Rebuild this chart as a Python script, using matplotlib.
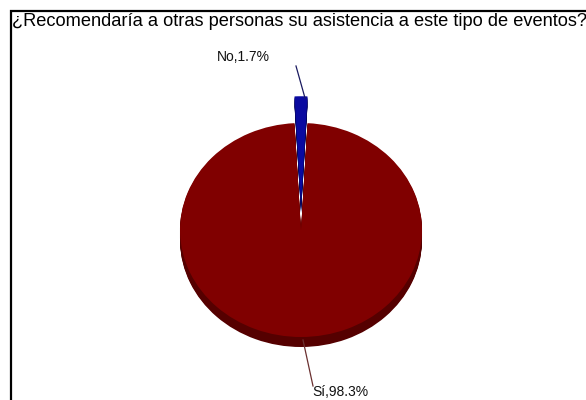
import matplotlib
matplotlib.use("Agg")
import matplotlib.pyplot as plt
from matplotlib.patches import Rectangle

# data
labels = ["No", "Sí"]
values = [1.7, 98.3]
colors = ["#0a0aa0", "#800000"]
side_colors = ["#05055a", "#550000"]
explode = [0.25, 0.0]

title = "¿Recomendaría a otras personas su asistencia a este tipo de eventos?"

W, H = 586, 400
cx, cy = 301, 230      # pie centre in pixels (from top-left)
rx, ry = 121, 107      # ellipse radii in pixels
depth = 10             # thickness of the pie in pixels

plt.rcParams['font.family'] = ['Liberation Sans', 'DejaVu Sans']

fig = plt.figure(figsize=(W / 100, H / 100), dpi=100)
ax = fig.add_axes([0, 0, 1, 1])

start = 90 - values[0] / sum(values) * 360 / 2

# side of the pie (shifted down), then the top face
for k in range(depth, 0, -1):
    ax.pie(values, colors=side_colors, explode=explode, startangle=start,
           center=(0, -k / ry), radius=1, frame=True,
           wedgeprops=dict(linewidth=0))
ax.pie(values, colors=colors, explode=explode, startangle=start,
       center=(0, 0), radius=1, frame=True,
       wedgeprops=dict(linewidth=0))
ax.set_aspect('auto')
ax.set_xlim(-cx / rx, (W - cx) / rx)
ax.set_ylim(-(H - cy) / ry, cy / ry)
ax.axis('off')


def px(x, y):
    # pixel (from top-left) -> data coords
    return (x - cx) / rx, (cy - y) / ry


# leader lines and labels
x0, y0 = px(305, 98)
x1, y1 = px(296, 66)
ax.plot([x0, x1], [y0, y1], color="#1a1a60", lw=0.9)
tx, ty = px(243, 57)
ax.text(tx, ty, f"{labels[0]},{values[0]}%", ha='center', va='center',
        fontsize=10, color='#111111')

x0, y0 = px(303, 340)
x1, y1 = px(313, 386)
ax.plot([x0, x1], [y0, y1], color="#6a3030", lw=0.9)
tx, ty = px(312, 392)
ax.text(tx, ty, f"{labels[1]},{values[1]}%", ha='left', va='center',
        fontsize=10, color='#111111')

fig.text(12 / W, 1 - 22 / H, title, ha='left', va='center', fontsize=13.15)

fig.patches.append(Rectangle((11 / W, -0.05), 1.0, 1 - 11 / H + 0.05,
                             transform=fig.transFigure, fill=False,
                             edgecolor='black', linewidth=1.6))

fig.savefig("out.png", dpi=100)
